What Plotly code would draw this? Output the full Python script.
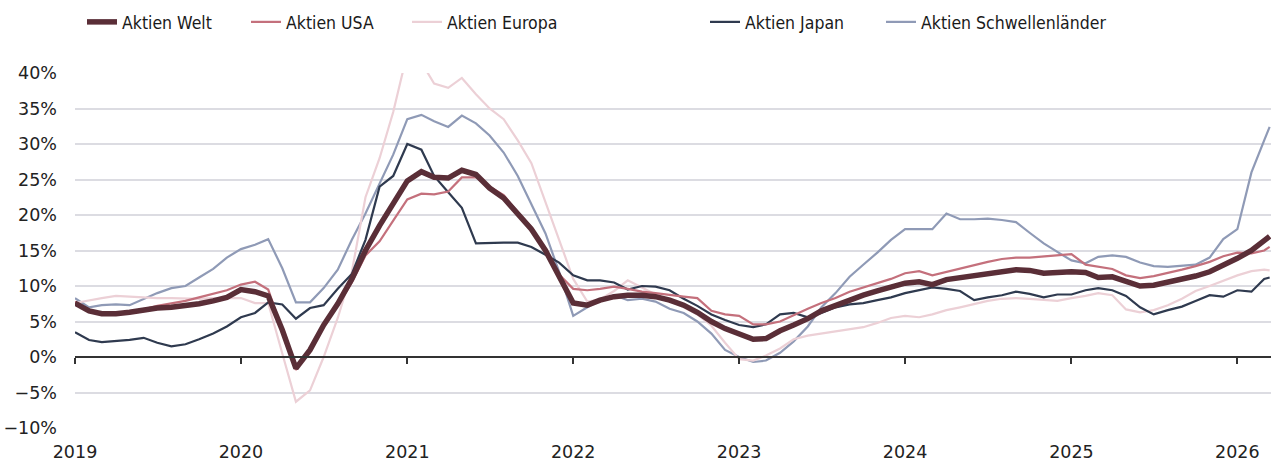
import pandas as pd
import plotly.graph_objects as go

# Monthly observation dates (first of month) plus final observation
dates = list(pd.date_range("2019-01-01", "2026-03-01", freq="MS").strftime("%Y-%m-%d")) + ["2026-03-13"]

welt = [7.6, 6.5, 6.1, 6.1, 6.3, 6.6, 6.9, 7.0, 7.2, 7.5, 7.9, 8.4,
        9.5, 9.2, 8.6, 3.8, -1.6, 1.0, 4.5, 7.5, 11.0, 15.0, 18.5, 21.5,
        24.8, 26.1, 25.3, 25.2, 26.3, 25.7, 23.8, 22.4, 20.2, 18.0, 15.0, 11.2,
        7.6, 7.3, 8.0, 8.5, 8.7, 8.7, 8.5, 8.0, 7.3, 6.3, 5.0, 4.0,
        3.2, 2.5, 2.6, 3.7, 4.5, 5.4, 6.5, 7.3, 8.0, 8.7, 9.3, 9.9,
        10.4, 10.6, 10.2, 10.9, 11.2, 11.5, 11.8, 12.0, 12.3, 12.2, 11.8, 11.9,
        12.0, 11.9, 11.2, 11.3, 10.6, 10.0, 10.1, 10.5, 10.9, 11.4, 12.0, 12.9,
        13.9, 15.0, 16.3, 17.0]

usa = [7.8, 6.6, 6.0, 6.1, 6.4, 6.7, 7.2, 7.5, 7.9, 8.4, 8.9, 9.4,
       10.2, 10.6, 9.5, 3.8, -1.8, 1.0, 4.3, 7.3, 10.5, 14.3, 16.3, 19.2,
       22.2, 23.0, 22.9, 23.3, 25.3, 25.3, 24.0, 22.8, 20.4, 18.3, 14.8, 11.6,
       9.6, 9.4, 9.6, 9.9, 9.6, 9.2, 9.0, 8.7, 8.5, 8.3, 6.5, 6.0,
       5.8, 4.6, 4.6, 5.0, 5.9, 6.8, 7.6, 8.3, 9.2, 9.8, 10.4, 11.0,
       11.8, 12.1, 11.5, 12.0, 12.5, 13.0, 13.4, 13.8, 14.0, 14.0, 14.2, 14.3,
       14.5, 13.0, 12.7, 12.4, 11.5, 11.1, 11.4, 11.8, 12.3, 12.8, 13.4, 14.2,
       14.7, 14.6, 15.0, 15.5]

europa = [7.6, 8.0, 8.3, 8.6, 8.5, 8.3, 8.3, 8.3, 8.2, 8.2, 8.3, 8.3,
          8.3, 7.6, 7.6, 0.5, -6.3, -4.7, 0.0, 5.5, 12.0, 22.5, 28.0, 34.5,
          42.8, 41.5, 38.5, 37.9, 39.3, 37.0, 35.0, 33.5, 30.5, 27.3, 21.8, 16.4,
          11.0, 7.8, 8.1, 9.3, 10.8, 9.8, 8.8, 7.9, 7.0, 6.0, 4.4, 2.0,
          -0.3, -0.5, 0.2, 1.2, 2.5, 3.0, 3.3, 3.6, 3.9, 4.2, 4.8, 5.5,
          5.8, 5.6, 6.0, 6.6, 7.0, 7.5, 7.9, 8.2, 8.3, 8.2, 8.0, 7.9,
          8.3, 8.6, 9.0, 8.7, 6.7, 6.3, 6.6, 7.3, 8.2, 9.3, 10.0, 10.7,
          11.5, 12.1, 12.3, 12.2]

japan = [3.5, 2.4, 2.1, 2.2, 2.4, 2.7, 2.0, 1.5, 1.8, 2.5, 3.3, 4.3,
         5.6, 6.2, 7.7, 7.4, 5.4, 6.9, 7.3, 9.6, 11.7, 16.5, 24.0, 25.5,
         30.0, 29.2, 25.5, 23.2, 21.0, 16.0, 16.1, 16.1, 16.1, 15.5, 14.4, 13.3,
         11.5, 10.8, 10.8, 10.5, 9.5, 10.0, 9.9, 9.4, 8.2, 7.2, 6.0, 5.2,
         4.5, 4.2, 4.6, 6.0, 6.2, 5.6, 6.2, 7.0, 7.4, 7.6, 8.0, 8.4,
         9.0, 9.4, 9.8, 9.6, 9.3, 8.0, 8.4, 8.7, 9.2, 8.9, 8.4, 8.8,
         8.8, 9.4, 9.7, 9.4, 8.6, 7.0, 6.0, 6.6, 7.1, 7.9, 8.7, 8.5,
         9.4, 9.2, 11.0, 11.2]

schwellen = [8.3, 7.0, 7.3, 7.4, 7.3, 8.2, 9.0, 9.7, 10.0, 11.2, 12.4, 14.0,
             15.2, 15.8, 16.6, 12.5, 7.7, 7.7, 9.7, 12.3, 16.5, 20.2, 24.4, 28.5,
             33.5, 34.1, 33.2, 32.4, 34.0, 32.9, 31.2, 28.8, 25.5, 21.5, 17.4, 12.0,
             5.8, 7.0, 8.0, 8.7, 8.0, 8.2, 7.8, 6.8, 6.2, 5.0, 3.3, 1.0,
             0.0, -0.7, -0.5, 0.6, 2.2, 4.3, 7.0, 9.0, 11.3, 13.0, 14.7, 16.5,
             18.0, 18.0, 18.0, 20.2, 19.4, 19.4, 19.5, 19.3, 19.0, 17.5, 16.0, 14.8,
             13.6, 13.2, 14.1, 14.3, 14.1, 13.3, 12.8, 12.7, 12.8, 13.0, 14.0, 16.6,
             18.0, 26.0, 30.5, 32.4]

names = ["Aktien Welt", "Aktien USA", "Aktien Europa", "Aktien Japan", "Aktien Schwellenländer"]
series = [welt, usa, europa, japan, schwellen]
colors = ["#5a2e37", "#c4707c", "#ecd0d6", "#2f3a4f", "#8f9ab6"]
widths = [5.5, 2.2, 2.2, 2.2, 2.2]
legend_ids = ["legend", "legend2", "legend3", "legend4", "legend5"]
legend_left_px = [82, 246, 407, 705, 881]

year_ticks = [f"{y}-01-01" for y in range(2019, 2027)]
y_min, y_max = -10, 40
W, H = 1271, 463

fig = go.Figure()
# draw back to front so that "Aktien Welt" is on top
for i in [4, 2, 3, 1, 0]:
    fig.add_trace(go.Scatter(
        x=dates, y=series[i], mode="lines", name=names[i],
        line=dict(color=colors[i], width=widths[i]),
        legend=legend_ids[i], hoverinfo="skip"))

# helper axis drawn at 0% carrying the year tick marks
fig.add_trace(go.Scatter(x=year_ticks, y=[None] * len(year_ticks), xaxis="x2",
                         showlegend=False, hoverinfo="skip", mode="lines"))

legend_font = dict(family="'Liberation Sans Narrow', 'DejaVu Sans Condensed', Roboto, sans-serif",
                   size=17.5, color="#1a1a1a")
tick_font = dict(family="'DejaVu Sans', sans-serif", size=17.5, color="#222222")
zero_pos = (0 - y_min) / (y_max - y_min)

layout_legends = {}
for lid, px in zip(legend_ids, legend_left_px):
    layout_legends[lid] = dict(orientation="h", xref="container", yref="container",
                               x=px / W, xanchor="left", y=1 - 22 / H, yanchor="middle",
                               font=legend_font, itemwidth=30, bgcolor="rgba(0,0,0,0)")

fig.update_layout(
    width=W, height=H,
    margin=dict(l=75, r=0, t=73, b=35, autoexpand=False),
    paper_bgcolor="white", plot_bgcolor="white",
    font=dict(family="'DejaVu Sans', sans-serif", color="#222222", size=16),
    showlegend=True,
    **layout_legends,
    xaxis=dict(range=["2019-01-01", "2026-03-16"], tickvals=year_ticks,
               tickformat="%Y", showgrid=False, showline=False, zeroline=False,
               ticks="", tickfont=tick_font, automargin=False, ticklabelstandoff=11),
    xaxis2=dict(matches="x", overlaying="x", anchor="free", position=zero_pos,
                tickvals=year_ticks, showticklabels=False, showgrid=False,
                showline=True, linecolor="#333333", linewidth=2, automargin=False,
                ticks="outside", ticklen=6, tickwidth=2, tickcolor="#333333"),
    yaxis=dict(range=[y_min, y_max], dtick=5, ticksuffix="%", showgrid=True,
               gridcolor="#dcdce2", gridwidth=2, zeroline=False, showline=False,
               ticks="", ticklabelstandoff=17, automargin=False, tickfont=tick_font),
)

fig.write_html("out.html", config={"displayModeBar": False},
               post_script="document.body.style.margin='0';document.body.style.overflow='hidden';")
